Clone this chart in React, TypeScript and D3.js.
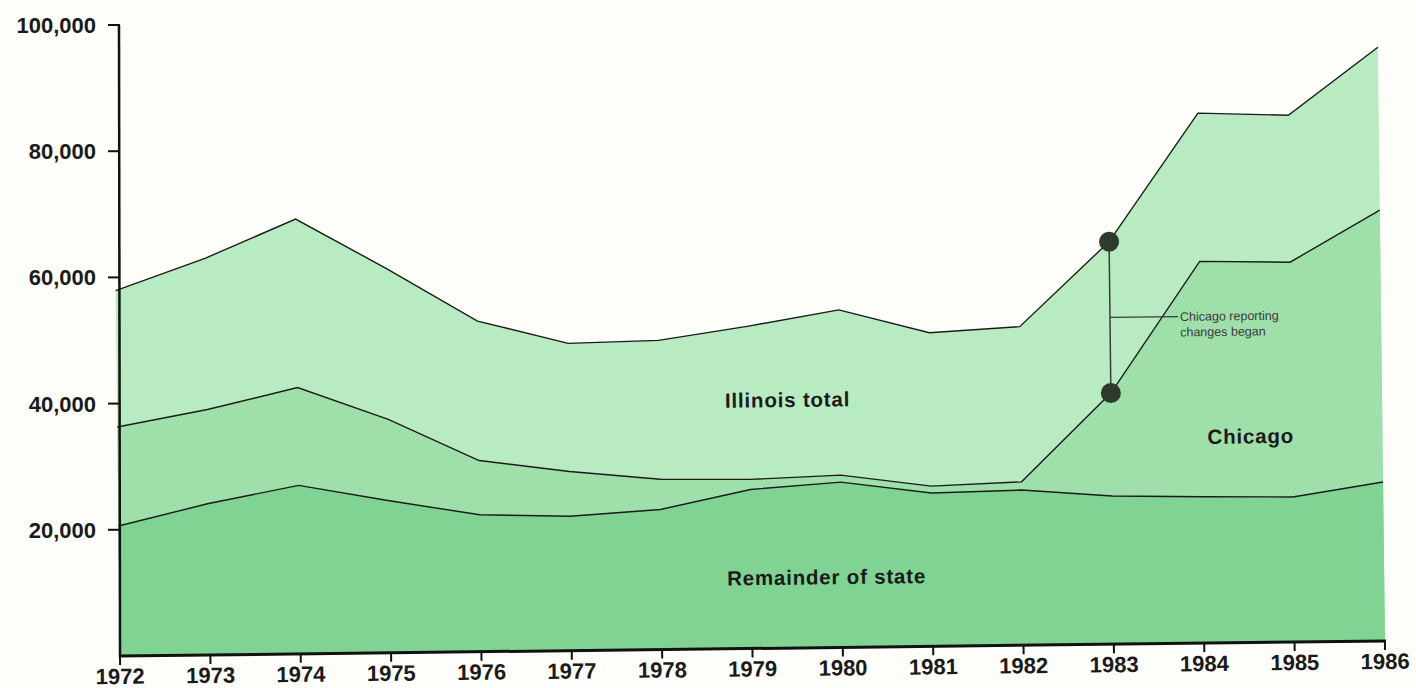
import React from "react";
import * as d3 from "d3";

const years = [1972, 1973, 1974, 1975, 1976, 1977, 1978, 1979, 1980, 1981, 1982, 1983, 1984, 1985, 1986];
const illinoisTotal = [57900, 62900, 68900, 60900, 52400, 48700, 49000, 51100, 53500, 49700, 50500, 63800, 84000, 83500, 94100];
const chicago = [36300, 38900, 42200, 37000, 30300, 28400, 27000, 26800, 27300, 25400, 25900, 39800, 60500, 60200, 68300];
const remainder = [20600, 24000, 26700, 24100, 21700, 21300, 22200, 25200, 26200, 24300, 24600, 23500, 23200, 23000, 25200];
const yTicks = [20000, 40000, 60000, 80000, 100000];
const annotationYear = 1983;
const annotationLines = ["Chicago reporting", "changes began"];

const W = 1416;
const H = 688;

export default function App() {
  const x = d3.scaleLinear().domain([1972, 1986]).range([120, 1385]);
  const y = d3.scaleLinear().domain([0, 100000]).range([656, 25]);

  const area = (vals: number[]) =>
    d3
      .area<number>()
      .x((_, i) => x(years[i]))
      .y0(y(0))
      .y1((d) => y(d))(vals) as string;
  const line = (vals: number[]) =>
    d3
      .line<number>()
      .x((_, i) => x(years[i]))
      .y((d) => y(d))(vals) as string;

  const ai = years.indexOf(annotationYear);
  const ax = x(annotationYear);
  const aTop = y(illinoisTotal[ai]);
  const aBot = y(chicago[ai]);
  const aMid = (aTop + aBot) / 2;

  const font = "'Liberation Sans', Arial, Helvetica, sans-serif";

  return (
    <svg
      width={W}
      height={H}
      style={{ position: "fixed", left: 0, top: 0, background: "#fdfdf9" }}
    >
      <defs>
        <pattern id="hatch" width="4" height="4" patternUnits="userSpaceOnUse" patternTransform="rotate(35)">
          <rect width="4" height="4" fill="#9cdea7" />
          <line x1="0" y1="0" x2="0" y2="4" stroke="#b2e8ba" strokeWidth="1.2" />
        </pattern>
      </defs>
      <rect width={W} height={H} fill="#fdfdf9" />
      <g transform={`rotate(-0.68, ${x(1972)}, ${y(0)})`}>
        <path d={area(illinoisTotal)} fill="#b9ebc2" />
        <path d={area(chicago)} fill="url(#hatch)" />
        <path d={area(remainder)} fill="#80d392" />
        <path d={line(illinoisTotal)} fill="none" stroke="#1b1b1b" strokeWidth={1.4} />
        <path d={line(chicago)} fill="none" stroke="#1b1b1b" strokeWidth={1.4} />
        <path d={line(remainder)} fill="none" stroke="#1b1b1b" strokeWidth={1.4} />

        {/* x axis */}
        <line x1={x(1972) - 1} x2={x(1986) + 1} y1={y(0)} y2={y(0)} stroke="#111" strokeWidth={3} />
        {years.map((yr) => (
          <g key={yr}>
            <line x1={x(yr)} x2={x(yr)} y1={y(0)} y2={y(0) + 9} stroke="#111" strokeWidth={2} />
            <text
              x={x(yr)}
              y={y(0) + 28}
              textAnchor="middle"
              fontFamily={font}
              fontWeight="bold"
              fontSize={22}
              fill="#1a1a1a"
            >
              {yr}
            </text>
          </g>
        ))}

        {/* annotation */}
        <line x1={ax} x2={ax} y1={aTop} y2={aBot} stroke="#3a3a3a" strokeWidth={1.5} />
        <line x1={ax} x2={ax + 68} y1={aMid} y2={aMid} stroke="#3a3a3a" strokeWidth={1.2} />
        <circle cx={ax} cy={aTop} r={10} fill="#2e3a2e" />
        <circle cx={ax} cy={aBot} r={10} fill="#2e3a2e" />
        {annotationLines.map((s, i) => (
          <text
            key={s}
            x={ax + 70}
            y={aMid + i * 15.5}
            dy="0.35em"
            fontFamily={font}
            fontSize={12.5}
            fill="#3a3a3a"
          >
            {s}
          </text>
        ))}

        {/* series labels */}
        <text x={728} y={y(40000) + 4} dy="0.36em" fontFamily={font} fontWeight="bold" fontSize={20.5} letterSpacing={0.8} fill="#1a1a1a">
          Illinois total
        </text>
        <text x={1210} y={y(34000) + 8} dy="0.36em" fontFamily={font} fontWeight="bold" fontSize={20.5} letterSpacing={0.8} fill="#1a1a1a">
          Chicago
        </text>
        <text x={728} y={y(12000) + 5} dy="0.36em" fontFamily={font} fontWeight="bold" fontSize={20.5} letterSpacing={0.8} fill="#1a1a1a">
          Remainder of state
        </text>
      </g>

      {/* y axis */}
      <line x1={x(1972) - 1} x2={x(1972)} y1={y(100000)} y2={y(0) + 1} stroke="#111" strokeWidth={2.5} />
      {yTicks.map((t) => (
        <g key={t}>
          <line x1={x(1972) - 12} x2={x(1972)} y1={y(t)} y2={y(t)} stroke="#111" strokeWidth={2} />
          <text
            x={x(1972) - 24}
            y={y(t)}
            dy="0.36em"
            textAnchor="end"
            fontFamily={font}
            fontWeight="bold"
            fontSize={22}
            fill="#1a1a1a"
          >
            {d3.format(",")(t)}
          </text>
        </g>
      ))}
    </svg>
  );
}
